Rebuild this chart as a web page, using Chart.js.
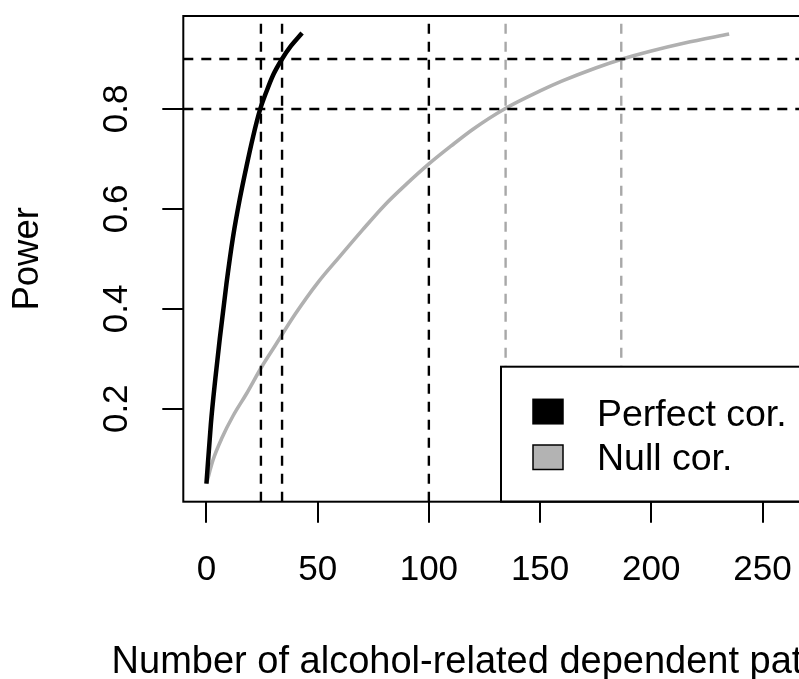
<!DOCTYPE html>
<html>
<head>
<meta charset="utf-8">
<title>Power by sample size</title>
<style>
  html, body { margin: 0; padding: 0; overflow: hidden; background: #fff; }
  #wrap { width: 830px; height: 679px; }
</style>
</head>
<body>
<div id="wrap"><canvas id="powerChart" width="830" height="679"></canvas></div>

<script src="https://cdn.jsdelivr.net/npm/chart.js"></script>
<script>
  // values
  const perfectN = [0, 2, 4, 6, 9, 12, 15, 18, 21, 24, 27, 30, 34, 38, 43];
  const perfectPower = [0.05, 0.17, 0.26, 0.34, 0.45, 0.545, 0.62, 0.685, 0.745, 0.797, 0.835, 0.868, 0.9, 0.926, 0.952];
  const nullN = [0, 3, 7, 12, 18, 25, 30, 40, 50, 60, 70, 80, 90, 100, 110, 120, 134, 150, 160, 175, 187, 200, 215, 235];
  const nullPower = [0.05, 0.098, 0.142, 0.186, 0.23, 0.285, 0.32, 0.39, 0.452, 0.505, 0.557, 0.607, 0.65, 0.69, 0.726, 0.76, 0.8, 0.836, 0.856, 0.882, 0.9, 0.916, 0.932, 0.95];
  const powerLevels = [0.8, 0.9];
  const perfectCuts = [24.5, 34, 100];
  const nullCuts = [134.5, 186.5];
  const xTicks = [0, 50, 100, 150, 200, 250];
  const yTicks = [0.2, 0.4, 0.6, 0.8];
  const seriesNames = ['Perfect cor.', 'Null cor.'];
  const seriesColors = ['#000000', '#b0b0b0'];
  const xTitle = 'Number of alcohol-related dependent patients';

  const X_MIN = -10.4, X_MAX = 271.8;
  const Y_MIN = 0.014, Y_MAX = 0.986;
  const FONT = '"Liberation Sans", Arial, Helvetica, sans-serif';

  const pts = (xs, ys) => xs.map((x, i) => ({ x: x, y: ys[i] }));
  const dashed = (data, color) => ({
    data: data,
    borderColor: color,
    borderWidth: 2.4,
    borderDash: [10, 8],
    pointRadius: 0,
    tension: 0,
    order: 0
  });

  const datasets = [];
  powerLevels.forEach(p => datasets.push(dashed([{ x: X_MIN, y: p }, { x: X_MAX, y: p }], '#000')));
  perfectCuts.forEach(n => datasets.push(dashed([{ x: n, y: Y_MIN }, { x: n, y: Y_MAX }], '#000')));
  nullCuts.forEach(n => datasets.push(dashed([{ x: n, y: Y_MIN }, { x: n, y: Y_MAX }], '#a8a8a8')));
  datasets.push({
    label: seriesNames[0],
    data: pts(perfectN, perfectPower),
    borderColor: seriesColors[0],
    borderWidth: 4.5,
    pointRadius: 0,
    cubicInterpolationMode: 'monotone',
    order: 1
  });
  datasets.push({
    label: seriesNames[1],
    data: pts(nullN, nullPower),
    borderColor: seriesColors[1],
    borderWidth: 3.6,
    pointRadius: 0,
    cubicInterpolationMode: 'monotone',
    order: 2
  });

  // box around the plot region + x title (too wide for the axis, so drawn here)
  const frame = {
    id: 'frame',
    afterDraw(chart) {
      const { ctx, chartArea: a } = chart;
      ctx.save();
      ctx.strokeStyle = '#000';
      ctx.lineWidth = 2;
      ctx.strokeRect(a.left, a.top, a.right - a.left, a.bottom - a.top);
      ctx.fillStyle = '#000';
      ctx.font = '38px ' + FONT;
      ctx.textAlign = 'center';
      ctx.textBaseline = 'alphabetic';
      ctx.fillText(xTitle, (a.left + a.right) / 2, 673.3);
      ctx.restore();
    }
  };

  // bottom-right legend with filled boxes, as in base R
  const boxLegend = {
    id: 'boxLegend',
    afterDatasetsDraw(chart) {
      const { ctx, chartArea: a } = chart;
      const left = a.right - 310, top = a.bottom - 135;
      ctx.save();
      ctx.fillStyle = '#fff';
      ctx.fillRect(left, top, a.right - left, a.bottom - top);
      ctx.strokeStyle = '#000';
      ctx.lineWidth = 2;
      ctx.strokeRect(left, top, a.right - left, a.bottom - top);
      const fills = ['#000000', '#b3b3b3'];
      const boxY = [32.6, 78.3];
      const textY = [59.5, 103.3];
      ctx.font = '37.5px ' + FONT;
      ctx.textBaseline = 'alphabetic';
      ctx.textAlign = 'left';
      seriesNames.forEach((name, i) => {
        ctx.fillStyle = fills[i];
        ctx.fillRect(left + 32, top + boxY[i], 30, 24.5);
        ctx.lineWidth = 1.5;
        ctx.strokeRect(left + 32, top + boxY[i], 30, 24.5);
        ctx.fillStyle = '#000';
        ctx.fillText(name, left + 96, top + textY[i]);
      });
      ctx.restore();
    }
  };

  new Chart(document.getElementById('powerChart'), {
    type: 'line',
    data: { datasets: datasets },
    options: {
      responsive: false,
      animation: false,
      devicePixelRatio: 1,
      layout: { padding: { top: 16, right: 19, left: 0, bottom: 0 } },
      scales: {
        x: {
          type: 'linear',
          min: X_MIN,
          max: X_MAX,
          afterBuildTicks: s => { s.ticks = xTicks.map(v => ({ value: v })); },
          afterFit: s => { s.height = 177.3; s.paddingLeft = 0; s.paddingRight = 0; },
          grid: { drawOnChartArea: false, drawTicks: true, tickLength: 21, color: '#000', lineWidth: 2 },
          border: { display: false },
          ticks: {
            color: '#000',
            font: { family: FONT, size: 35 },
            padding: 27,
            maxRotation: 0,
            autoSkip: false,
            callback: v => String(v)
          }
        },
        y: {
          type: 'linear',
          min: Y_MIN,
          max: Y_MAX,
          afterBuildTicks: s => { s.ticks = yTicks.map(v => ({ value: v })); },
          afterFit: s => { s.width = 183.3; s.paddingTop = 0; s.paddingBottom = 0; },
          grid: { drawOnChartArea: false, drawTicks: true, tickLength: 21, color: '#000', lineWidth: 2 },
          border: { display: false },
          ticks: {
            color: '#000',
            font: { family: FONT, size: 35 },
            padding: 21,
            minRotation: 90,
            maxRotation: 90,
            crossAlign: 'center',
            autoSkip: false,
            callback: v => v.toFixed(1)
          },
          title: {
            display: true,
            text: 'Power',
            color: '#000',
            font: { family: FONT, size: 36.5 },
            padding: { top: 6, bottom: 0 }
          }
        }
      },
      plugins: {
        legend: { display: false },
        tooltip: { enabled: false }
      }
    },
    plugins: [boxLegend, frame]
  });
</script>
</body>
</html>
